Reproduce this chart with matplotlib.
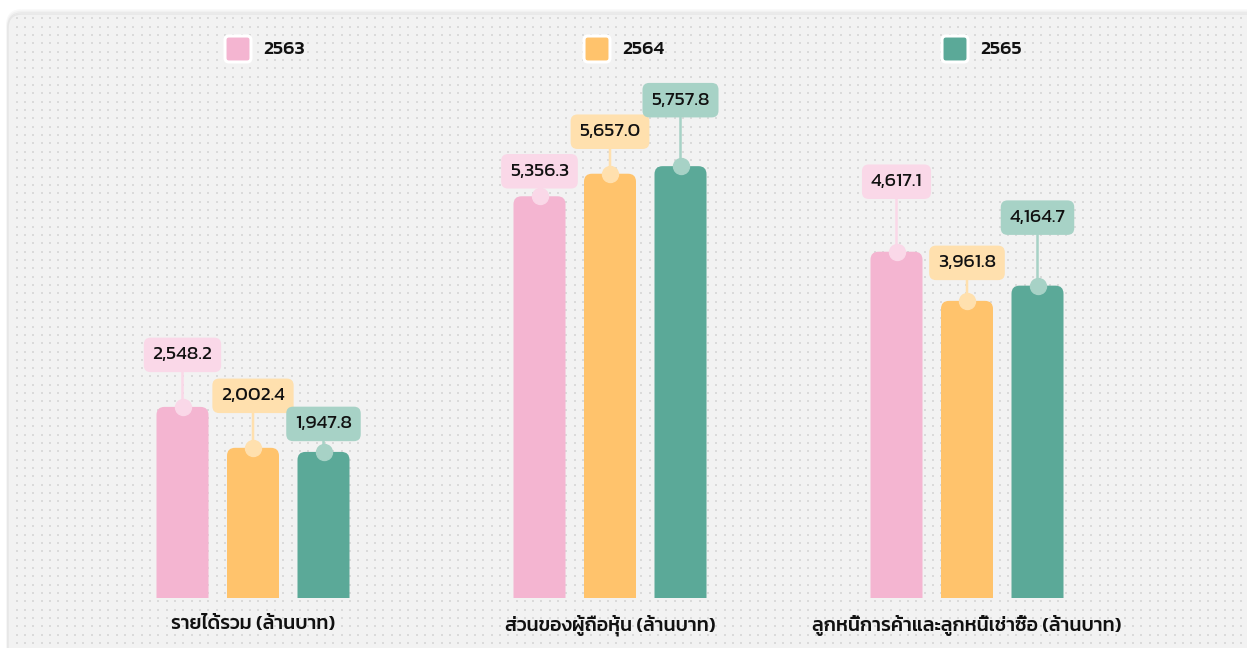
import matplotlib
matplotlib.use("Agg")
import matplotlib.pyplot as plt
import numpy as np
from matplotlib.patches import FancyBboxPatch

plt.rcParams["font.family"] = ["Kanit", "DejaVu Sans"]

# data
categories = ["รายได้รวม (ล้านบาท)", "ส่วนของผู้ถือหุ้น (ล้านบาท)",
              "ลูกหนี้การค้าและลูกหนี้เช่าซื้อ (ล้านบาท)"]
years = ["2563", "2564", "2565"]
v2563 = [2548.2, 5356.3, 4617.1]
v2564 = [2002.4, 5657.0, 3961.8]
v2565 = [1947.8, 5757.8, 4164.7]

# styling
bar_colors = ["#F4B5D1", "#FFC36C", "#5BA998"]
light_colors = ["#FAD8E8", "#FFE0AE", "#A7D2C6"]
# label box height above bar top, px (per group, per year)
label_off = [[52, 52, 28], [25, 42, 66], [70, 38, 68]]

W, H = 1247, 648
fig = plt.figure(figsize=(W / 100, H / 100), dpi=100)
fig.patch.set_facecolor("white")

# background panel with dots, in pixel coordinates
bg = fig.add_axes([0, 0, 1, 1], zorder=-1)
bg.set_xlim(0, W)
bg.set_ylim(H, 0)
bg.axis("off")
for i, a in enumerate([0.025, 0.03, 0.04]):
    bg.add_patch(FancyBboxPatch((8, 14 - 3 + i), W + 40, H + 40,
                                boxstyle="round,pad=0,rounding_size=14",
                                fc="none", ec="#000000", alpha=a, lw=3 - i))
bg.add_patch(FancyBboxPatch((8, 14), W + 40, H + 40,
                            boxstyle="round,pad=0,rounding_size=14",
                            fc="#F2F2F2", ec="#E6E6E6", lw=1))
gx, gy = np.meshgrid(np.arange(16.7, W, 8.33), np.arange(18.3, H, 8.33))
bg.scatter(gx.ravel(), gy.ravel(), s=1.5, marker="s", c="#DADADA",
           linewidths=0)

# legend
leg_x = [238, 597, 955]
for lx, yr, c in zip(leg_x, years, bar_colors):
    bg.add_patch(FancyBboxPatch((lx - 13, 49 - 13), 26, 26,
                                boxstyle="round,pad=0,rounding_size=4",
                                fc=c, ec="white", lw=2.2))
    bg.text(lx + 25, 50, yr, ha="left", va="center", fontsize=14,
            weight="medium", color="#111111")

# main axes: 0 at pixel y=598, 0.075 px per unit
px_per_unit = 0.075
bottom_px = 598
ax = fig.add_axes([0, (H - bottom_px) / H, 1, bottom_px / H])
ax.set_facecolor("none")
ax.axis("off")
gap = 357.0
x0 = 253.0
ax.set_xlim(-x0 / gap, (W - x0) / gap)
ax.set_ylim(0, bottom_px / px_per_unit)

x = np.arange(len(categories))
width = 52 / gap
step = 70.5 / gap
series = [v2563, v2564, v2565]
rad_x = 8 / gap
aspect = (1 / px_per_unit) * gap
for j, vals in enumerate(series):
    bars = ax.bar(x + (j - 1) * step, vals, width, color=bar_colors[j])
    for k, rect in enumerate(bars):
        bx, bw, bh = rect.get_x(), rect.get_width(), rect.get_height()
        rect.remove()
        ax.add_patch(FancyBboxPatch((bx, -300), bw, bh + 300,
                                    boxstyle=f"round,pad=0,rounding_size={rad_x}",
                                    mutation_aspect=aspect,
                                    fc=bar_colors[j], ec="none", zorder=2))
        cx = bx + bw / 2
        ax.annotate(f"{bh:,.1f}", xy=(cx, bh), xytext=(0, label_off[k][j]),
                    textcoords="offset pixels", ha="center", va="center",
                    fontsize=14, color="#111111", zorder=5,
                    bbox=dict(boxstyle="round,pad=0.45,rounding_size=0.35",
                              fc=light_colors[j], ec="none"),
                    arrowprops=dict(arrowstyle="-", color=light_colors[j],
                                    lw=1.8, shrinkA=0, shrinkB=0),
                    annotation_clip=False)
        ax.plot(cx, bh, "o", ms=11.5, color=light_colors[j], zorder=4,
                clip_on=False)

for xi, name in zip(x, categories):
    ax.text(xi, -27 / px_per_unit, name, ha="center", va="center",
            fontsize=14, weight="medium", color="#111111", clip_on=False)

fig.savefig("out.png", dpi=100)
